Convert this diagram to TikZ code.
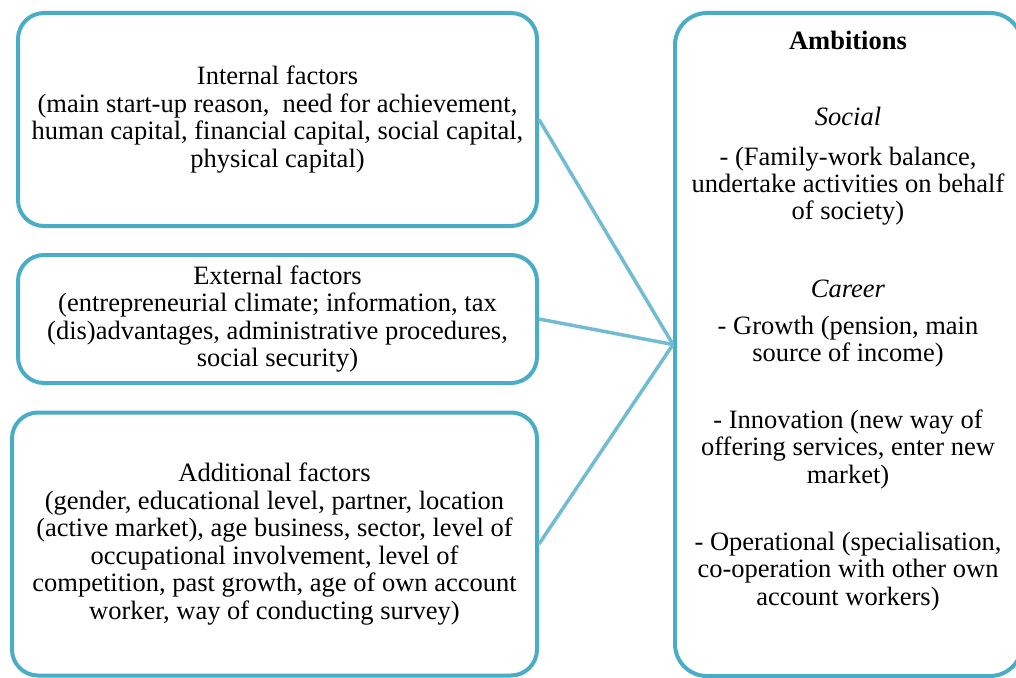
\documentclass[tikz,border=0pt]{standalone}
\usepackage{fontspec}
\setmainfont{Liberation Serif}
\definecolor{boxblue}{HTML}{4BACC6}
\definecolor{linkblue}{HTML}{72BCD3}
\begin{document}
\begin{tikzpicture}[x=1pt,y=-1pt,
  factor/.style={draw=boxblue, line width=4pt, rounded corners=26pt, align=center,
    inner sep=0pt, font=\fontsize{26.5}{27.6}\selectfont},
  link/.style={draw=linkblue, line width=3.5pt},
  ambline/.style={anchor=base, inner sep=0pt, font=\fontsize{26.5}{27.6}\selectfont}]
\useasboundingbox (0,0) rectangle (1016,677);

% factor boxes on the left
\node[factor, minimum width=519pt, minimum height=213pt] (internal) at (277.5,119.5)
  {Internal factors\\(main start-up reason,\ \ need for achievement,\\human capital, financial capital, social capital,\\physical capital)};
\node[factor, minimum width=519pt, minimum height=128pt] (external) at (277.5,319)
  {External factors\\(entrepreneurial climate; information, tax\\(dis)advantages, administrative procedures,\\social security)};
\node[factor, minimum width=525pt, minimum height=263pt] (additional) at (274.5,544)
  {Additional factors\\(gender, educational level, partner, location\\(active market), age business, sector, level of\\occupational involvement, level of\\competition, past growth, age of own account\\worker, way of conducting survey)};

% ambitions box on the right
\node[factor, rounded corners=32pt, minimum width=347pt, minimum height=663pt] (ambitions) at (848.5,344.5) {};

\node[ambline] (a1)  at (848,49)  {\textbf{Ambitions}};
\node[ambline] (a2)  at (848,125) {\textit{Social}};
\node[ambline] (a3)  at (848,165) {- (Family-work balance,};
\node[ambline] (a4)  at (848,192) {undertake activities on behalf};
\node[ambline] (a5)  at (848,219) {of society)};
\node[ambline] (a6)  at (848,297) {\textit{Career}};
\node[ambline] (a7)  at (848,334) {- Growth (pension, main};
\node[ambline] (a8)  at (848,361) {source of income)};
\node[ambline] (a9)  at (848,428) {- Innovation (new way of};
\node[ambline] (a10) at (848,455) {offering services, enter new};
\node[ambline] (a11) at (848,483) {market)};
\node[ambline] (a12) at (848,550) {- Operational (specialisation,};
\node[ambline] (a13) at (848,577) {co-operation with other own};
\node[ambline] (a14) at (848,605) {account workers)};

% connectors converging on the ambitions box
\draw[link] (internal.east) -- (ambitions.west);
\draw[link] (external.east) -- (ambitions.west);
\draw[link] (additional.east) -- (ambitions.west);
\end{tikzpicture}
\end{document}
